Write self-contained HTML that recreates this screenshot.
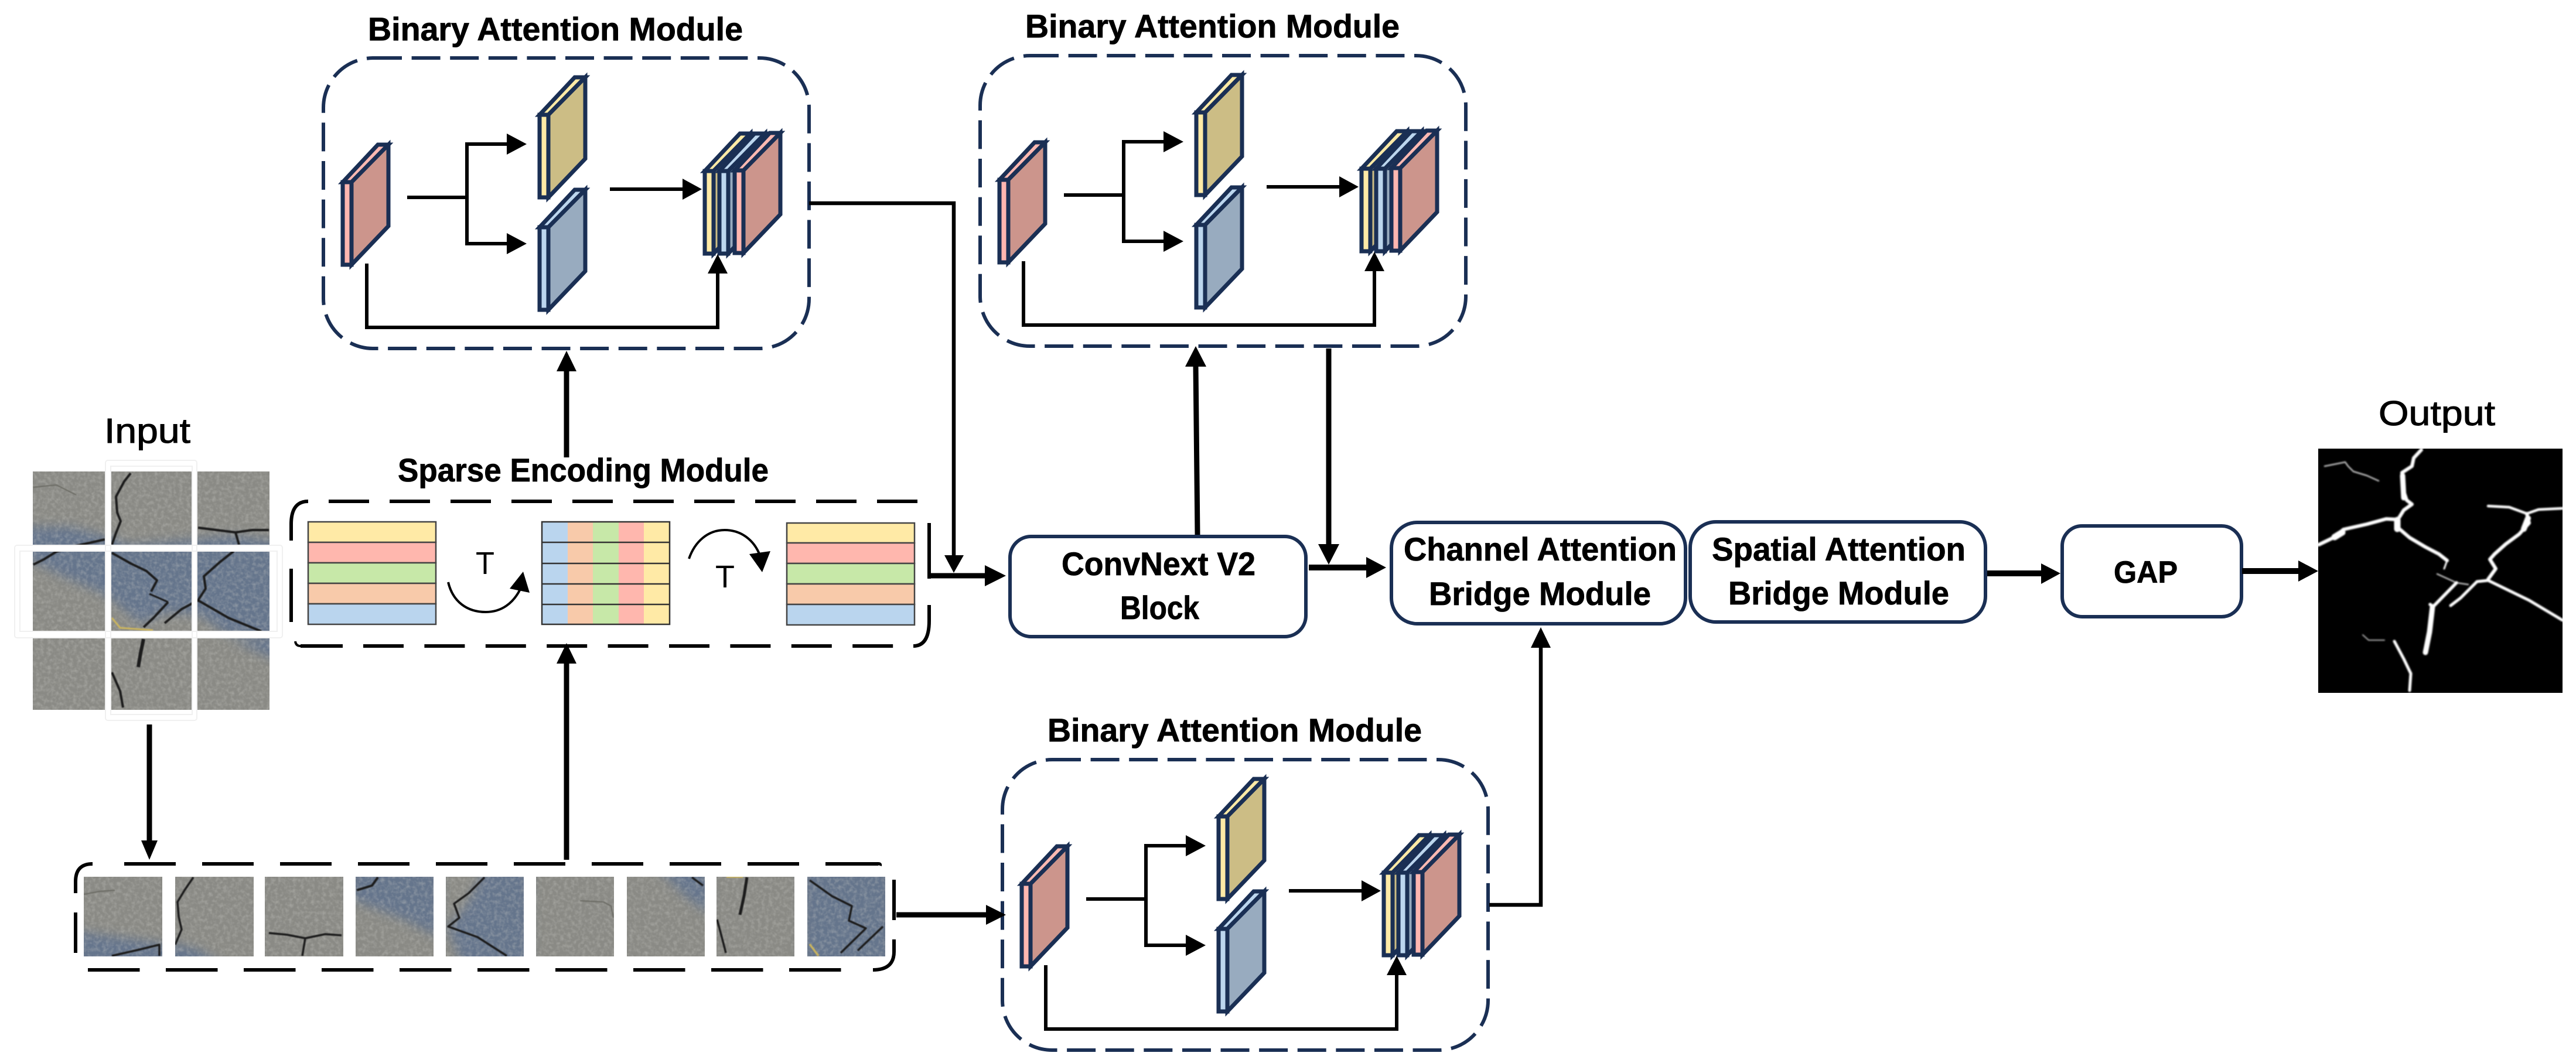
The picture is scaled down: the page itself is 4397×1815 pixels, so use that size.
<!DOCTYPE html>
<html lang="en">
<head>
<meta charset="utf-8">
<title>Binary Attention Network Diagram</title>
<style>
html,body{margin:0;padding:0;background:#fff}
svg{display:block}
text{font-family:"Liberation Sans",sans-serif;fill:#000}
.b{font-weight:700;font-size:56px;stroke:#000;stroke-width:.8px}
.r{font-size:59px;stroke:#000;stroke-width:1px}
</style>
</head>
<body>
<svg xmlns="http://www.w3.org/2000/svg" width="4397" height="1815" viewBox="0 0 4397 1815">
<defs>
<filter id="n" x="0" y="0" width="1" height="1" color-interpolation-filters="sRGB">
<feTurbulence type="fractalNoise" baseFrequency=".16" numOctaves="2" seed="3"/>
<feColorMatrix values="0 0 0 0 .8 0 0 0 0 .8 0 0 0 0 .78 1.3 0 0 0 -.5"/>
</filter>
<filter id="s" x="-5%" y="-5%" width="110%" height="110%"><feGaussianBlur stdDeviation="1.2"/></filter>
<filter id="c" x="-5%" y="-5%" width="110%" height="110%"><feGaussianBlur stdDeviation=".7"/></filter>
<filter id="bb" x="-20%" y="-20%" width="140%" height="140%"><feGaussianBlur stdDeviation="9"/></filter>
<clipPath id="inp"><rect x="56" y="805" width="404" height="407"/></clipPath>
<clipPath id="tiles">
<rect x="143" y="1497" width="134" height="136"/><rect x="299" y="1497" width="134" height="136"/>
<rect x="452" y="1497" width="134" height="136"/><rect x="607" y="1497" width="133" height="136"/>
<rect x="761" y="1497" width="133" height="136"/><rect x="915" y="1497" width="133" height="136"/>
<rect x="1070" y="1497" width="133" height="136"/><rect x="1223" y="1497" width="133" height="136"/>
<rect x="1378" y="1497" width="133" height="136"/>
</clipPath>
<g id="pk" stroke="#1a2f54" stroke-width="7">
<polygon points="3,3 18,3 81,-61 63,-61" fill="#ffb9b2"/>
<polygon points="18,3 81,-61 81,78 18,144" fill="#cc958c"/>
<rect x="3" y="3" width="15" height="141" fill="#ffb6b0"/>
</g>
<g id="yl" stroke="#1a2f54" stroke-width="7">
<polygon points="3,3 18,3 81,-61 63,-61" fill="#ffeaa6"/>
<polygon points="18,3 81,-61 81,78 18,144" fill="#ccbd85"/>
<rect x="3" y="3" width="15" height="141" fill="#ffeaa6"/>
</g>
<g id="bl" stroke="#1a2f54" stroke-width="7">
<polygon points="3,3 18,3 81,-61 63,-61" fill="#bcd6ee"/>
<polygon points="18,3 81,-61 81,78 18,144" fill="#98abbf"/>
<rect x="3" y="3" width="15" height="141" fill="#bcd6ee"/>
</g>
<g id="bam">
<rect x="552" y="99" width="829" height="496" rx="85" ry="85" fill="none" stroke="#1a2f54" stroke-width="6" stroke-dasharray="49 16.6"/>
<use href="#pk" x="582" y="308"/>
<use href="#yl" x="918" y="193"/>
<use href="#bl" x="918" y="385"/>
<use href="#yl" x="1200" y="289"/>
<use href="#bl" x="1225" y="289"/>
<use href="#pk" x="1251" y="288"/>
<g fill="none" stroke="#000" stroke-width="6">
<path d="M695,337H797M797,416V246H866M797,337V416H866"/>
<path d="M1041,323H1166"/>
<path d="M626,450V559H1225V466"/>
</g>
<polygon points="865,228 899,246 865,264"/>
<polygon points="865,398 899,416 865,434"/>
<polygon points="1165,305 1198,323 1165,341"/>
<polygon points="1208,467 1225,434 1242,467"/>
</g>
</defs>

<!-- Titles -->
<text class="b" x="628" y="69" textLength="640" lengthAdjust="spacingAndGlyphs">Binary Attention Module</text>
<text class="b" x="1750" y="64" textLength="639" lengthAdjust="spacingAndGlyphs">Binary Attention Module</text>
<text class="b" x="1788" y="1266" textLength="639" lengthAdjust="spacingAndGlyphs">Binary Attention Module</text>
<text class="b" x="679" y="822" textLength="633" lengthAdjust="spacingAndGlyphs">Sparse Encoding Module</text>
<text class="r" x="178" y="756" textLength="147" lengthAdjust="spacingAndGlyphs">Input</text>
<text class="r" x="4060" y="726" textLength="199" lengthAdjust="spacingAndGlyphs">Output</text>

<!-- BAM modules -->
<use href="#bam"/>
<use href="#bam" x="1121" y="-4"/>
<use href="#bam" x="1159" y="1198"/>

<!-- Input image -->
<g clip-path="url(#inp)">
<rect x="56" y="805" width="404" height="407" fill="#8a8a85"/>
<polygon points="40,900 120,900 180,915 220,930 400,915 480,925 480,1090 390,1085 340,1050 285,1045 240,1065 180,1015 110,985 40,950" fill="#65758c" filter="url(#bb)"/>
<polygon points="400,1095 480,1085 480,1130" fill="#65758c" filter="url(#bb)"/>
<rect x="56" y="805" width="404" height="407" filter="url(#n)" opacity=".55"/>
</g>
<g fill="none" stroke="#1d1d1f" stroke-width="4" stroke-linejoin="round" filter="url(#c)">
<path d="M223,808L212,822L205,835L198,848L200,875L206,890L198,910L191,930"/>
<path d="M57,964L75,955L96,942L130,932L179,921"/>
<path d="M191,944L223,962L250,975L268,991L258,1010"/>
<path d="M399,941L375,960L348,984L351,1005L338,1025L390,1055L446,1078"/>
<path d="M338,1025L310,1040L281,1064"/>
<path d="M287,1028L262,1055L245,1071"/>
<path d="M245,1091L240,1115L236,1139" stroke-width="6"/>
<path d="M191,1148L205,1180L210,1208"/>
<path d="M338,901L370,905L402,909L430,905L459,905M402,909L408,930"/>
<path d="M57,832L96,828L130,845" stroke="#6a6a64" stroke-width="2"/>
<path d="M255,1014L287,1028" stroke-width="3"/>
<path d="M191,1055L205,1072L261,1076" stroke="#c9b35e" stroke-width="3"/>
</g>
<g fill="#fff">
<rect x="180" y="786" width="9" height="444"/>
<rect x="328" y="786" width="8" height="444"/>
<rect x="25" y="931" width="457" height="10"/>
<rect x="25" y="1079" width="457" height="9"/>
</g>
<g fill="none" stroke="#f0f0f0" stroke-width="2">
<rect x="25" y="931" width="457" height="158" rx="4"/>
<rect x="180" y="786" width="156" height="444" rx="4"/>
<rect x="34" y="941" width="439" height="137"/>
<rect x="189" y="796" width="139" height="424"/>
</g>

<!-- SEM dashed box -->
<g fill="none" stroke="#000" stroke-width="6">
<path d="M561,856H1566" stroke-dasharray="69 35"/>
<path d="M620,1103H1530" stroke-dasharray="69 35.4"/>
<path d="M513,1103H585"/>
<path d="M497,923V895Q497,856 526,856"/>
<path d="M497,971V1062"/>
<path d="M1586,893V988"/>
<path d="M1586,1033V1060Q1586,1103 1559,1103"/>
<path d="M513,1103Q505,1103 504,1095" stroke-width="4"/>
</g>

<!-- Tables -->
<g stroke="#444" stroke-width="2.5">
<rect x="526" y="891" width="218" height="35" fill="#ffeaa6"/>
<rect x="526" y="926" width="218" height="35" fill="#ffb7ae"/>
<rect x="526" y="961" width="218" height="35" fill="#c7e8a8"/>
<rect x="526" y="996" width="218" height="35" fill="#f8caaa"/>
<rect x="526" y="1031" width="218" height="35" fill="#bad5ee"/>
</g>
<rect x="925" y="891" width="44" height="175" fill="#bad5ee"/>
<rect x="969" y="891" width="43" height="175" fill="#f8caaa"/>
<rect x="1012" y="891" width="44" height="175" fill="#c7e8a8"/>
<rect x="1056" y="891" width="43" height="175" fill="#ffb7ae"/>
<rect x="1099" y="891" width="44" height="175" fill="#ffeaa6"/>
<g fill="none" stroke="#333" stroke-width="2.5">
<rect x="925" y="891" width="218" height="175"/>
<path d="M925,926H1143M925,962H1143M925,997H1143M925,1032H1143"/>
</g>
<g stroke="#444" stroke-width="2.5">
<rect x="1343" y="893" width="218" height="34" fill="#ffeaa6"/>
<rect x="1343" y="927" width="218" height="35" fill="#ffb7ae"/>
<rect x="1343" y="962" width="218" height="35" fill="#c7e8a8"/>
<rect x="1343" y="997" width="218" height="35" fill="#f8caaa"/>
<rect x="1343" y="1032" width="218" height="35" fill="#bad5ee"/>
</g>

<!-- T arcs -->
<path d="M765,994C773,1028 798,1045 829,1045C856,1045 876,1030 888,1006" fill="none" stroke="#000" stroke-width="4"/>
<polygon points="893,976 870,1005 904,1012"/>
<text x="812" y="980" font-size="54" textLength="32" lengthAdjust="spacingAndGlyphs">T</text>
<path d="M1176,954C1186,925 1208,905 1237,905C1265,905 1287,922 1297,948" fill="none" stroke="#000" stroke-width="4"/>
<polygon points="1279,946 1315,941 1301,977"/>
<text x="1221" y="1003" font-size="54" textLength="33" lengthAdjust="spacingAndGlyphs">T</text>

<!-- Bottom strip -->
<g clip-path="url(#tiles)">
<rect x="130" y="1490" width="1390" height="150" fill="#8a8a85"/>
<g fill="#65758c" filter="url(#bb)">
<polygon points="130,1590 200,1600 285,1612 285,1650 130,1650"/>
<polygon points="290,1610 340,1622 380,1650 290,1650"/>
<polygon points="600,1480 750,1480 750,1600 690,1570 600,1535"/>
<polygon points="830,1480 905,1480 905,1650 790,1650 765,1585 800,1540"/>
<polygon points="1120,1480 1210,1480 1210,1560 1170,1530"/>
<polygon points="1370,1480 1520,1480 1520,1650 1370,1650"/>
</g>
<rect x="130" y="1490" width="1390" height="150" filter="url(#n)" opacity=".55"/>
</g>
<g fill="none" stroke="#1d1d1f" stroke-width="3.5" stroke-linejoin="round" filter="url(#c)" clip-path="url(#tiles)">
<path d="M191,1632L235,1622L272,1613L272,1632"/>
<path d="M143,1527L170,1522L196,1520" stroke="#6a6a64" stroke-width="2"/>
<path d="M330,1498L315,1520L303,1540L305,1565L310,1587L299,1613"/>
<path d="M459,1593L490,1596L521,1602L555,1595L583,1597M521,1602L516,1632"/>
<path d="M645,1498L635,1512L609,1520" stroke-width="4"/>
<path d="M827,1498L800,1525L775,1543L784,1567L765,1582L815,1600L865,1632"/>
<path d="M990,1538L1030,1540L1043,1547L1047,1567" stroke="#6a6a64" stroke-width="2"/>
<path d="M1181,1498L1200,1512"/>
<path d="M1275,1498L1270,1530L1263,1562" stroke-width="5"/>
<path d="M1224,1570L1232,1600L1239,1627"/>
<path d="M1382,1503L1420,1530L1454,1547L1449,1572L1478,1585L1435,1627"/>
<path d="M1507,1582L1464,1623"/>
<path d="M1382,1612L1397,1632" stroke="#c9b35e"/>
<path d="M1240,1497H1268" stroke="#c9b35e"/>
</g>
<g fill="none" stroke="#000" stroke-width="6">
<path d="M212,1475H1445" stroke-dasharray="88 45"/>
<path d="M1411,1475H1499Q1503,1475 1502,1478"/>
<path d="M150,1656H1443" stroke-dasharray="88.5 44.5"/>
<path d="M129,1525V1505Q129,1475 158,1475"/>
<path d="M129,1558V1627"/>
<path d="M1526,1502V1571"/>
<path d="M1526,1604V1625Q1526,1656 1490,1656"/>
</g>

<!-- Main connectors -->
<path d="M1381,347H1628V950" fill="none" stroke="#000" stroke-width="6.5"/>
<polygon points="1612,948 1645,948 1628,978"/>
<path d="M967,781V632" stroke="#000" stroke-width="9"/>
<polygon points="950,634 967,599 984,634"/>
<path d="M967,1468V1131" stroke="#000" stroke-width="9"/>
<polygon points="950,1133 967,1098 984,1133"/>
<path d="M255,1237V1437" stroke="#000" stroke-width="9"/>
<polygon points="241,1435 255,1468 269,1435"/>
<path d="M1586,983H1683" stroke="#000" stroke-width="9"/>
<polygon points="1681,965 1717,983 1681,1001"/>
<path d="M1530,1562H1686" stroke="#000" stroke-width="9"/>
<polygon points="1683,1545 1717,1562 1683,1579"/>

<!-- ConvNext -->
<rect x="1724" y="916" width="505" height="171" rx="36" fill="#fff" stroke="#1a2f54" stroke-width="6"/>
<text class="b" x="1812" y="982" textLength="331" lengthAdjust="spacingAndGlyphs">ConvNext V2</text>
<text class="b" x="1912" y="1057" textLength="135" lengthAdjust="spacingAndGlyphs">Block</text>
<path d="M2044,913L2041,624" stroke="#000" stroke-width="9"/>
<polygon points="2023,626 2041,591 2059,626"/>
<path d="M2268,595V931" stroke="#000" stroke-width="9"/>
<polygon points="2250,929 2286,929 2268,964"/>
<path d="M2234,969H2335" stroke="#000" stroke-width="10"/>
<polygon points="2332,951 2366,969 2332,987"/>

<!-- CAB / SAB -->
<rect x="2375" y="892" width="502" height="173" rx="44" fill="#fff" stroke="#1a2f54" stroke-width="6"/>
<text class="b" x="2396" y="957" textLength="466" lengthAdjust="spacingAndGlyphs">Channel Attention</text>
<text class="b" x="2439" y="1033" textLength="379" lengthAdjust="spacingAndGlyphs">Bridge Module</text>
<rect x="2885" y="891" width="504" height="171" rx="44" fill="#fff" stroke="#1a2f54" stroke-width="6"/>
<text class="b" x="2922" y="957" textLength="433" lengthAdjust="spacingAndGlyphs">Spatial Attention</text>
<text class="b" x="2950" y="1032" textLength="377" lengthAdjust="spacingAndGlyphs">Bridge Module</text>
<path d="M2542,1545H2630V1105" fill="none" stroke="#000" stroke-width="6.5"/>
<polygon points="2613,1106 2630,1071 2647,1106"/>

<!-- GAP -->
<path d="M3392,979H3486" stroke="#000" stroke-width="10"/>
<polygon points="3484,962 3517,979 3484,997"/>
<rect x="3520" y="898" width="306" height="155" rx="34" fill="#fff" stroke="#1a2f54" stroke-width="6"/>
<text class="b" x="3608" y="995" textLength="109" lengthAdjust="spacingAndGlyphs" style="font-size:53px">GAP</text>
<path d="M3827,975H3926" stroke="#000" stroke-width="10"/>
<polygon points="3923,957 3957,975 3923,993"/>

<!-- Output -->
<rect x="3957" y="766" width="417" height="417" fill="#000"/>
<g fill="none" stroke="#fff" stroke-linejoin="round" stroke-linecap="round" filter="url(#s)">
<path d="M4133,768L4120,782L4117,796L4100,807L4102,836L4108,854L4117,861L4103,871L4093,887" stroke-width="6"/>
<path d="M4101,812L4103,850" stroke-width="9"/>
<path d="M3958,930L3987,916L4000,904L4040,895L4073,886L4093,887L4092,900L4113,918L4140,934L4163,946L4177,957" stroke-width="6"/>
<path d="M3985,917L3998,909M4092,888L4092,903" stroke-width="11"/>
<path d="M4177,957L4172,971" stroke-width="3"/>
<path d="M4247,864L4283,866L4313,877L4333,870L4374,868" stroke-width="4.5"/>
<path d="M4313,877L4317,893L4300,912L4277,929L4258,946L4250,955L4260,971L4247,989" stroke-width="6"/>
<path d="M4315,885L4308,903" stroke-width="10"/>
<path d="M4374,1059L4317,1025L4247,991L4228,993L4200,1021L4183,1034" stroke-width="5"/>
<path d="M4160,980L4193,995L4213,998" stroke-width="2.5" stroke-opacity=".75"/>
<path d="M4193,995L4153,1036L4148,1032" stroke-width="5.5"/>
<path d="M4152,1036L4147,1079L4140,1114" stroke-width="9"/>
<path d="M3968,796L4003,789L4008,796L4017,805L4040,812L4060,821" stroke-width="2.5" stroke-opacity=".75"/>
<path d="M4033,1084L4043,1093L4070,1093" stroke-width="2" stroke-opacity=".7"/>
<path d="M4087,1095L4103,1125L4115,1150L4113,1179" stroke-width="5"/>
</g>
</svg>
</body>
</html>
